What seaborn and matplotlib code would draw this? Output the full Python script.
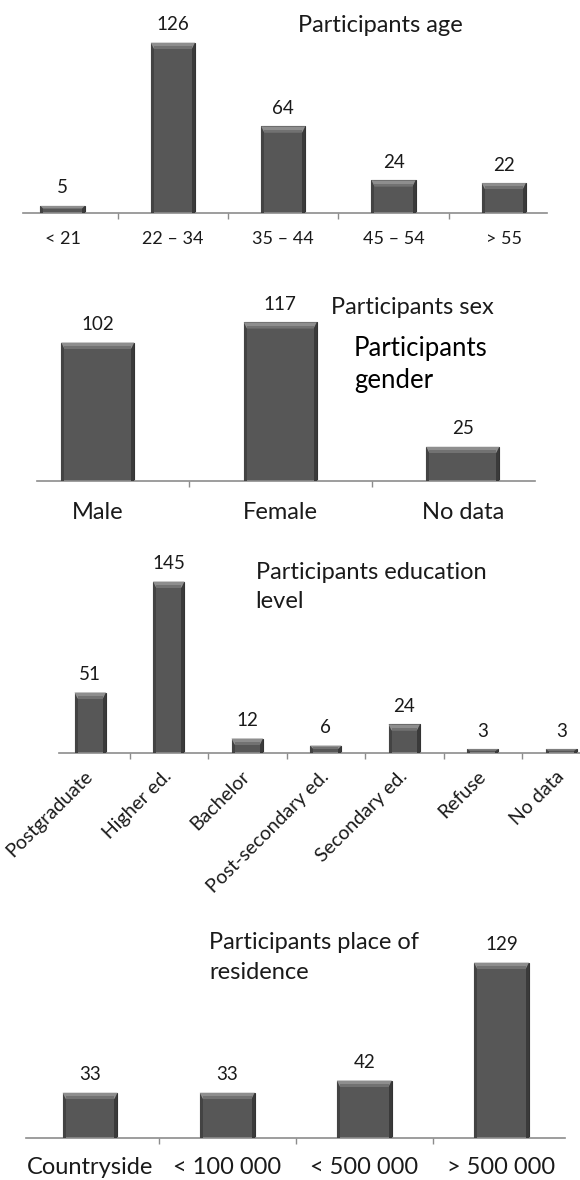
import matplotlib
matplotlib.use("Agg")
import matplotlib.pyplot as plt
from matplotlib.patches import Polygon, Rectangle
import seaborn as sns
import pandas as pd

# ---------------- data ----------------
age_labels = ["< 21", "22 – 34", "35 – 44", "45 – 54", "> 55"]
age_values = [5, 126, 64, 24, 22]

sex_labels = ["Male", "Female", "No data"]
sex_values = [102, 117, 25]

edu_labels = ["Postgraduate", "Higher ed.", "Bachelor", "Post-secondary ed.",
              "Secondary ed.", "Refuse", "No data"]
edu_values = [51, 145, 12, 6, 24, 3, 3]

res_labels = ["Countryside", "< 100 000", "< 500 000", "> 500 000"]
res_values = [33, 33, 42, 129]

# ---------------- style ----------------
sns.set_theme(style="white")
plt.rcParams["font.family"] = ["Lato", "DejaVu Sans"]
TXT = "#1a1a1a"
AX = "#8c8c8c"
FACE = "#575757"

W, H = 580, 1180
fig = plt.figure(figsize=(W / 100, H / 100), dpi=100)


def panel(labels, values, left, right, baseline, ppu, top, line_lo, line_hi,
          tick_fs, tick_pad, val_fs=13.5, rot=0):
    n = len(labels)
    catw = (right - left) / n
    ax = fig.add_axes([left / W, 1 - baseline / H, (right - left) / W, (baseline - top) / H])
    df = pd.DataFrame({"cat": labels, "val": values})
    sns.barplot(data=df, x="cat", y="val", order=labels, color=FACE, width=0.4,
                edgecolor="#333333", linewidth=0.8, saturation=1, ax=ax)
    ax.set_xlim(-0.5, n - 0.5)
    ax.set_ylim(0, (baseline - top) / ppu)
    ax.set_xlabel("")
    ax.set_ylabel("")
    ax.set_yticks([])
    for s in ["top", "left", "right"]:
        ax.spines[s].set_visible(False)
    ax.spines["bottom"].set_color(AX)
    ax.spines["bottom"].set_linewidth(1.2)
    lo = -0.5 + (line_lo - left) / catw
    hi = -0.5 + (line_hi - left) / catw
    ax.spines["bottom"].set_bounds(lo, hi)
    ax.set_xticks(range(n))
    if rot:
        ax.set_xticklabels(labels, rotation=rot, ha="right", va="center",
                           rotation_mode="anchor", fontsize=tick_fs, color=TXT)
    else:
        ax.set_xticklabels(labels, fontsize=tick_fs, color=TXT)
    ax.tick_params(axis="x", which="major", length=0, pad=tick_pad)
    ax.set_xticks([i + 0.5 for i in range(n - 1)], minor=True)
    ax.tick_params(axis="x", which="minor", length=4.5, width=1, color=AX,
                   direction="out", bottom=True)
    # bevel decoration on each bar
    dx = 1 / catw
    dy = 1 / ppu
    for p in ax.patches:
        x0, w, h = p.get_x(), p.get_width(), p.get_height()
        b = min(6 * dy, h * 0.45)
        side = 3 * dx
        ax.add_patch(Rectangle((x0, 0), side, h, facecolor="#434343", edgecolor="none", zorder=3))
        ax.add_patch(Rectangle((x0 + w - side, 0), side, h, facecolor="#3a3a3a", edgecolor="none", zorder=3))
        ax.add_patch(Polygon([(x0, h), (x0 + w, h), (x0 + w - side, h - b), (x0 + side, h - b)],
                             closed=True, facecolor="#8e8e8e", edgecolor="none", zorder=3.5))
        ax.add_patch(Polygon([(x0 + side, h - b * 0.55), (x0 + w - side, h - b * 0.55),
                              (x0 + w - side, h - b), (x0 + side, h - b)],
                             closed=True, facecolor="#727272", edgecolor="none", zorder=3.6))
    for i, v in enumerate(values):
        ax.annotate(str(v), (i, v), xytext=(0, 9), textcoords="offset points",
                    ha="center", va="baseline", fontsize=val_fs, color=TXT,
                    annotation_clip=False)
    return ax


panel(age_labels, age_values, 7.4, 559, 212.7, 1.349, 10, 22.7, 547, 13, 13.5)
panel(sex_labels, sex_values, 6.5, 554, 480.7, 1.354, 280, 37, 535, 17, 15.5)
panel(edu_labels, edu_values, 51, 600.5, 752.7, 1.18, 560, 59, 600, 14, 15, rot=45)
panel(res_labels, res_values, 21.5, 570, 1137.5, 1.355, 930, 26, 565, 17, 14)


def title(x, y, s, fs=17):
    fig.text(x / W, 1 - y / H, s, fontsize=fs, color=TXT, ha="left", va="baseline")


title(298, 32, "Participants age")
title(331, 314, "Participants sex")
fig.text(354 / W, 1 - 356 / H, "Participants", fontsize=18.5, color="#000000", va="baseline")
fig.text(354 / W, 1 - 388 / H, "gender", fontsize=18.5, color="#000000", va="baseline")
title(255.5, 579, "Participants education")
title(255.5, 608, "level")
title(209, 949, "Participants place of")
title(209, 979, "residence")

fig.savefig("out.png", dpi=100)
